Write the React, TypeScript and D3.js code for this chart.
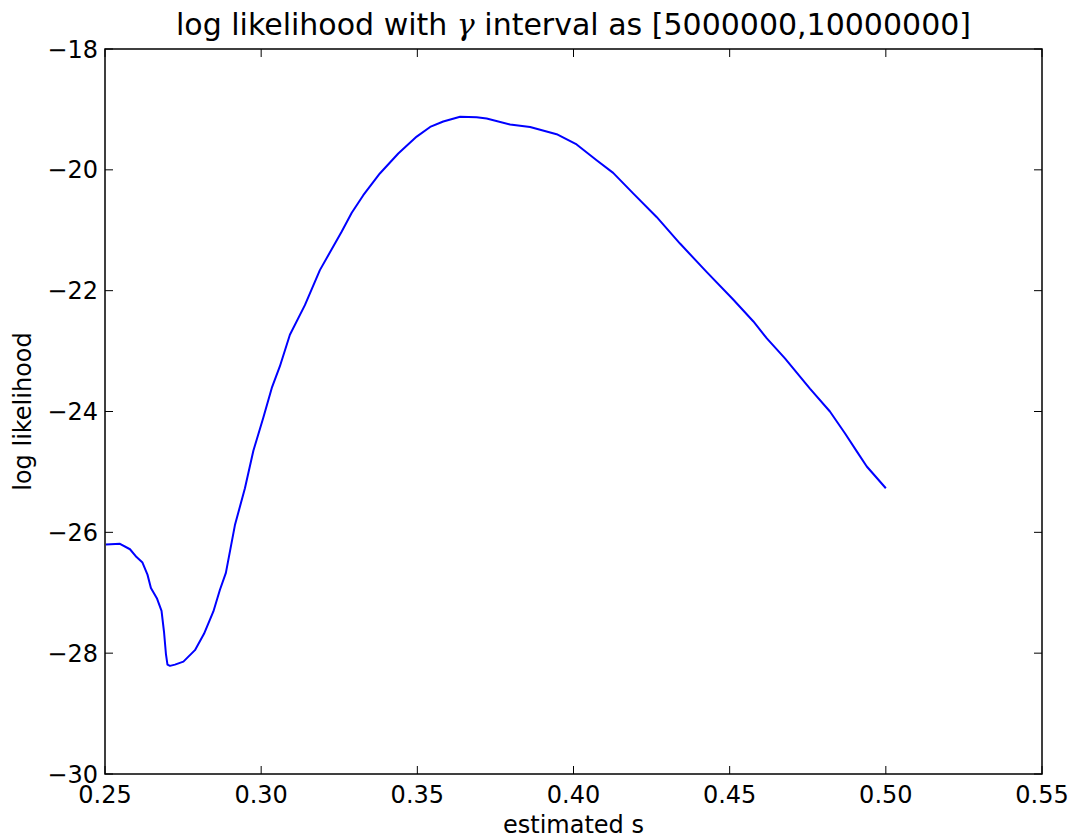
import React from "react";
import * as d3 from "d3";

const sValues = [
  0.2503, 0.2548, 0.258, 0.2601, 0.262, 0.2636, 0.2647, 0.2666, 0.2681, 0.2689,
  0.2695, 0.27, 0.2708, 0.2724, 0.2751, 0.2788, 0.2817, 0.2847, 0.2868, 0.2887,
  0.2916, 0.2948, 0.2975, 0.3007, 0.3034, 0.306, 0.3092, 0.314, 0.3188, 0.3258,
  0.329, 0.3327, 0.338, 0.3439, 0.3498, 0.3541, 0.3583, 0.3637, 0.369, 0.3722,
  0.3797, 0.3861, 0.3946, 0.401, 0.4074, 0.4127, 0.4191, 0.4266, 0.4341, 0.4426,
  0.4512, 0.4576, 0.4619, 0.4677, 0.4757, 0.4821, 0.4869, 0.4907, 0.4939, 0.5,
];
const logLik = [
  -26.2, -26.19, -26.28, -26.41, -26.5, -26.7, -26.92, -27.09, -27.3, -27.65,
  -28.01, -28.19, -28.21, -28.19, -28.14, -27.95, -27.68, -27.31, -26.95, -26.67,
  -25.88, -25.27, -24.65, -24.1, -23.61, -23.25, -22.73, -22.24, -21.66, -21.02,
  -20.71, -20.42, -20.06, -19.73, -19.45, -19.29, -19.2, -19.12, -19.13, -19.15,
  -19.25, -19.29, -19.41, -19.58, -19.84, -20.05, -20.39, -20.78, -21.22, -21.69,
  -22.15, -22.51, -22.79, -23.12, -23.62, -24.0, -24.36, -24.66, -24.91, -25.27,
];
const xTicks = [0.25, 0.3, 0.35, 0.4, 0.45, 0.5, 0.55];
const yTicks = [-30, -28, -26, -24, -22, -20, -18];
const titleMain = "log likelihood with ";
const titleGreek = "γ";
const titleRest = " interval as [5000000,10000000]";
const xLabel = "estimated s";
const yLabel = "log likelihood";

const W = 1079;
const H = 840;
const left = 105;
const right = 1042;
const top = 49;
const bottom = 774;
const font = "'DejaVu Sans', sans-serif";

export default function App() {
  const x = d3.scaleLinear().domain([0.25, 0.55]).range([left, right]);
  const y = d3.scaleLinear().domain([-30, -18]).range([bottom, top]);
  const pts = sValues.map((s, i) => [s, logLik[i]] as [number, number]);
  const line = d3
    .line<[number, number]>()
    .x((d) => x(d[0]))
    .y((d) => y(d[1]));
  const tickLen = 8;
  const fmtX = (v: number) => v.toFixed(2);
  const fmtY = (v: number) => (v < 0 ? "\u2212" + Math.abs(v) : String(v));
  return (
    <svg
      width={W}
      height={H}
      style={{ position: "absolute", left: 0, top: 0, background: "#fff" }}
      fontFamily={font}
    >
      <rect x={0} y={0} width={W} height={H} fill="#fff" />
      <path d={line(pts) || ""} fill="none" stroke="#0000ff" strokeWidth={2} strokeLinejoin="round" />
      {xTicks.map((t) => (
        <g key={"x" + t}>
          <line x1={x(t)} x2={x(t)} y1={bottom} y2={bottom - tickLen} stroke="#000" strokeWidth={1} />
          <line x1={x(t)} x2={x(t)} y1={top} y2={top + tickLen} stroke="#000" strokeWidth={1} />
          <text x={x(t)} y={803} textAnchor="middle" fontSize={24} fill="#000">
            {fmtX(t)}
          </text>
        </g>
      ))}
      {yTicks.map((t) => (
        <g key={"y" + t}>
          <line x1={left} x2={left + tickLen} y1={y(t)} y2={y(t)} stroke="#000" strokeWidth={1} />
          <line x1={right} x2={right - tickLen} y1={y(t)} y2={y(t)} stroke="#000" strokeWidth={1} />
          <text x={98} y={y(t)} dy="0.36em" textAnchor="end" fontSize={24} fill="#000">
            {fmtY(t)}
          </text>
        </g>
      ))}
      <rect x={left} y={top} width={right - left} height={bottom - top} fill="none" stroke="#000" strokeWidth={1.5} />
      <text x={(left + right) / 2} y={35} textAnchor="middle" fontSize={30} fill="#000">
        {titleMain}
        <tspan fontFamily="'DejaVu Serif', serif" fontStyle="italic">{titleGreek}</tspan>
        {titleRest}
      </text>
      <text x={(left + right) / 2} y={833} textAnchor="middle" fontSize={24} fill="#000">
        {xLabel}
      </text>
      <text
        transform={`translate(31,${(top + bottom) / 2}) rotate(-90)`}
        textAnchor="middle"
        fontSize={24}
        fill="#000"
      >
        {yLabel}
      </text>
    </svg>
  );
}
